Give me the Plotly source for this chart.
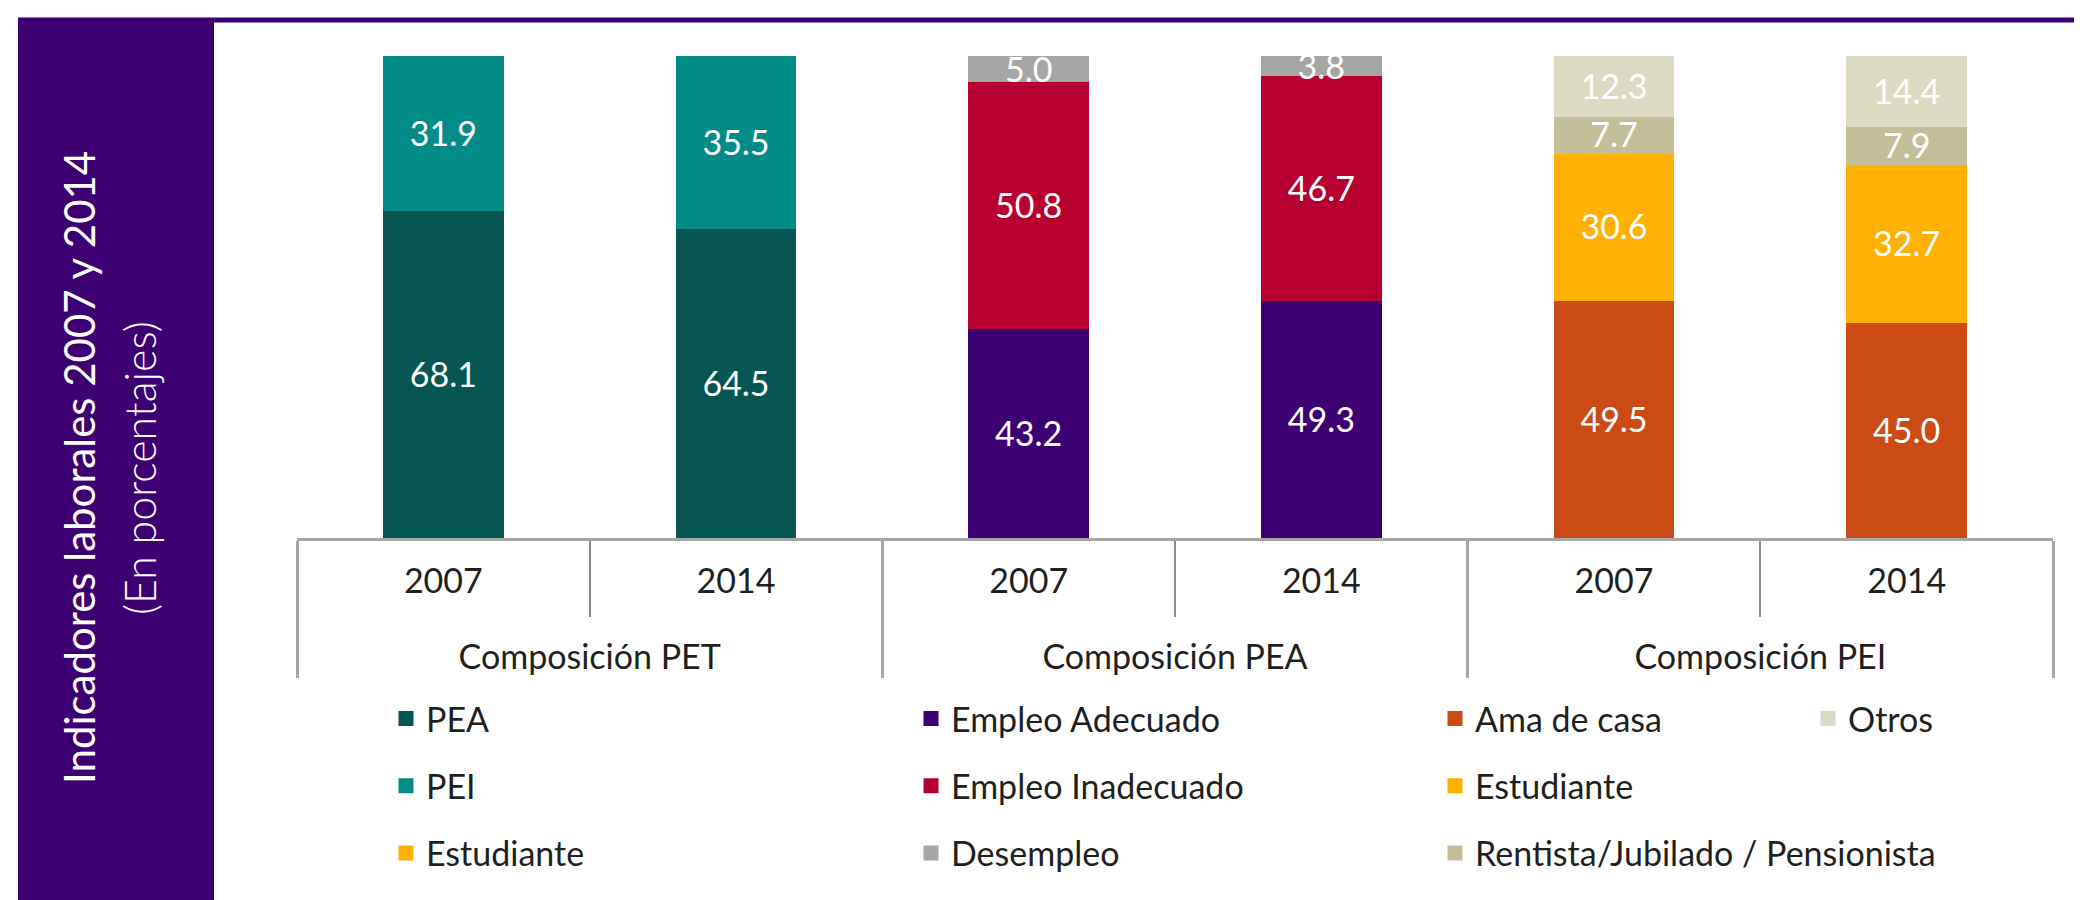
import plotly.graph_objects as go

# categorías (dos niveles)
grupos = ["Composición PET", "Composición PET",
          "Composición PEA", "Composición PEA",
          "Composición PEI", "Composición PEI"]
anios = ["2007", "2014", "2007", "2014", "2007", "2014"]

# Composición PET
pea = [68.1, 64.5]
pei = [31.9, 35.5]

# Composición PEA
empleo_adecuado = [43.2, 49.3]
empleo_inadecuado = [50.8, 46.7]
desempleo = [5.0, 3.8]

# Composición PEI
ama_de_casa = [49.5, 45.0]
estudiante = [30.6, 32.7]
rentista = [7.7, 7.9]
otros = [12.3, 14.4]

W, H = 2082, 900
ML, MR, MT, MB = 289, 37, 48, 370
FONT = "Lato, 'Open Sans', sans-serif"
MORADO = "#3D0073"


def px_x(px):
    return (px - ML) / (W - ML - MR)


def px_y(py):
    return (H - MB - py) / (H - MT - MB)


def xs(i0, i1):
    # el <br> inicial baja la etiqueta del grupo una línea
    return [["<br>" + g for g in grupos[i0:i1]], anios[i0:i1]]


fig = go.Figure()


def barra(nombre, valores, x, color, leyenda):
    fig.add_trace(go.Bar(
        name=nombre, x=x, y=valores, text=valores,
        texttemplate="%{text:.1f}", textposition="inside",
        insidetextanchor="middle", textangle=0,
        textfont=dict(family=FONT, size=34, color="white"),
        marker=dict(color=color, line=dict(color=color, width=3)),
        legend=leyenda, legendgroup=nombre + leyenda,
    ))


barra("PEA", pea, xs(0, 2), "#055552", "legend")
barra("PEI", pei, xs(0, 2), "#038C87", "legend")
# entrada de leyenda sin datos, presente en el gráfico original
fig.add_trace(go.Bar(name="Estudiante", x=xs(0, 1), y=[None],
                     marker=dict(color="#FFB000", line=dict(color="#FFB000", width=3)),
                     legend="legend", legendgroup="est1", hoverinfo="skip"))

barra("Empleo Adecuado", empleo_adecuado, xs(2, 4), MORADO, "legend2")
barra("Empleo Inadecuado", empleo_inadecuado, xs(2, 4), "#B80030", "legend2")
barra("Desempleo", desempleo, xs(2, 4), "#A6A6A6", "legend2")

barra("Ama de casa", ama_de_casa, xs(4, 6), "#CC4A14", "legend3")
barra("Estudiante", estudiante, xs(4, 6), "#FFB000", "legend3")
barra("Rentista/Jubilado / Pensionista", rentista, xs(4, 6), "#C4BF9B", "legend3")
barra("Otros", otros, xs(4, 6), "#DDDAC4", "legend4")

ley = dict(orientation="v", traceorder="grouped", tracegroupgap=20,
           font=dict(family=FONT, size=34, color="#1F1F1F"),
           bgcolor="rgba(0,0,0,0)", xanchor="left", yanchor="top",
           y=px_y(682))

fig.update_layout(
    width=W, height=H,
    margin=dict(l=ML, r=MR, t=MT, b=MB),
    barmode="stack", barnorm="percent", bargap=0.597,
    plot_bgcolor="white", paper_bgcolor="white",
    uniformtext=dict(minsize=34, mode="show"),
    showlegend=True,
    legend=dict(ley, x=px_x(378)),
    legend2=dict(ley, x=px_x(903)),
    legend3=dict(ley, x=px_x(1427)),
    legend4=dict(ley, x=px_x(1800)),
)

fig.update_xaxes(
    showline=True, linecolor="#A6A6A6", linewidth=3,
    ticks="outside", tickson="boundaries", ticklen=76,
    tickcolor="#8C8C8C", tickwidth=2,
    showdividers=True, dividercolor="#A6A6A6", dividerwidth=3,
    tickfont=dict(family=FONT, size=34, color="#1F1F1F"),
    ticklabelstandoff=11, showgrid=False,
)
fig.update_yaxes(range=[0, 100], visible=False)

# panel lateral y línea superior
fig.add_shape(type="rect", xref="paper", yref="paper",
              x0=px_x(10), x1=px_x(206), y0=px_y(900), y1=px_y(13),
              fillcolor=MORADO, line_width=0, layer="below")
fig.add_shape(type="line", xref="paper", yref="paper",
              x0=px_x(10), x1=px_x(2082), y0=px_y(12), y1=px_y(12),
              line=dict(color=MORADO, width=5))

fig.add_annotation(text="Indicadores laborales 2007 y 2014", textangle=-90,
                   xref="paper", yref="paper", x=px_x(71), y=px_y(460),
                   xanchor="center", yanchor="middle",
                   showarrow=False, font=dict(family=FONT, size=42, color="white"))
fig.add_annotation(text="(En porcentajes)", textangle=-90,
                   xref="paper", yref="paper", x=px_x(131), y=px_y(460),
                   xanchor="center", yanchor="middle",
                   showarrow=False, font=dict(family=FONT, size=43, color="white", weight=300))

fig.write_html("out.html")
